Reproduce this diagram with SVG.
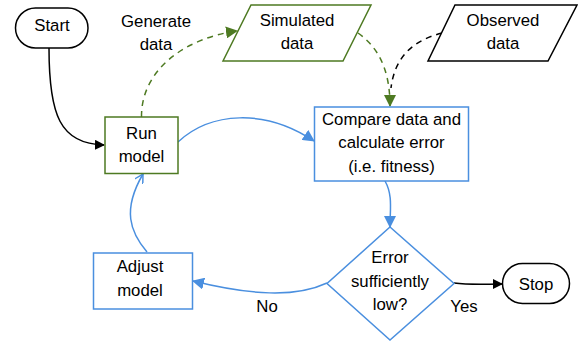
<svg xmlns="http://www.w3.org/2000/svg" width="578" height="345" viewBox="0 0 578 345">
<style>
text{font-family:"Liberation Sans",Arial,sans-serif;font-size:16.8px;fill:#000;text-anchor:middle}
.blk{fill:#fff;stroke:#000;stroke-width:1.5}
.grn{fill:#fff;stroke:#4e7a22;stroke-width:1.5}
.blu{fill:#fff;stroke:#4a8fdf;stroke-width:1.5}
.c{fill:none;stroke-width:1.5}
</style>
<defs>
<marker id="ab" markerWidth="10" markerHeight="10" refX="9" refY="5" orient="auto" markerUnits="userSpaceOnUse"><path d="M0,0 L10,5 L0,10 Z" fill="#000"/></marker>
<marker id="ag" markerWidth="12" markerHeight="12" refX="11" refY="6" orient="auto" markerUnits="userSpaceOnUse"><path d="M0,0 L12,6 L0,12 Z" fill="#4e7a22"/></marker>
<marker id="abl" markerWidth="12" markerHeight="12" refX="11" refY="6" orient="auto" markerUnits="userSpaceOnUse"><path d="M0,0 L12,6 L0,12 Z" fill="#4a8fdf"/></marker>
<marker id="aop" markerWidth="10" markerHeight="10" refX="9" refY="5" orient="auto" markerUnits="userSpaceOnUse"><path d="M0,0 L9,5 L0,10" fill="none" stroke="#4a8fdf" stroke-width="1.5"/></marker>
</defs>
<g id="connectors">
<path class="c" stroke="#000" d="M49,48 C49,115 60,144 104,145" marker-end="url(#ab)"/>
<path class="c" stroke="#4e7a22" stroke-dasharray="6,5" d="M141.5,117 C141,70 185,38 237,31" marker-end="url(#ag)"/>
<path class="c" stroke="#4e7a22" stroke-dasharray="6,5" d="M358,33 C375,45 390,65 390,106" marker-end="url(#ag)"/>
<path class="c" stroke="#000" stroke-dasharray="6,5" d="M442,33 C415,40 395,55 391,88"/>
<path class="c" stroke="#4a8fdf" d="M178,142 C210,112 265,108 314,141" marker-end="url(#abl)"/>
<path class="c" stroke="#4a8fdf" d="M385,181 C393,195 390,210 390,227" marker-end="url(#abl)"/>
<path class="c" stroke="#4a8fdf" d="M327,283 C295,298 250,295 193,281" marker-end="url(#abl)"/>
<path class="c" stroke="#4a8fdf" d="M147,252 C130,232 122,210 143,174" marker-end="url(#aop)"/>
<path class="c" stroke="#000" d="M454,283 C470,285 485,284 502,284" marker-end="url(#ab)"/>
<text x="156" y="27">Generate</text>
<text x="156" y="50">data</text>
<text x="267" y="312">No</text>
<text x="464" y="312">Yes</text>
</g>
<g id="start"><rect class="blk" x="15.5" y="8" width="72.5" height="40" rx="20" ry="20"/><text x="52" y="31">Start</text></g>
<g id="run-model"><rect class="grn" x="105" y="117" width="73" height="56.5"/><text x="141.5" y="139">Run</text><text x="141.5" y="162">model</text></g>
<g id="simulated-data"><polygon class="grn" points="251,5 371,5 343,61 223,61"/><text x="297" y="26">Simulated</text><text x="297" y="49">data</text></g>
<g id="observed-data"><polygon class="blk" points="455,5 577,5 548,61 428,61"/><text x="503" y="26">Observed</text><text x="503" y="49">data</text></g>
<g id="compare"><rect class="blu" x="314.5" y="107" width="154" height="74"/><text x="391.5" y="125">Compare data and</text><text x="391.5" y="148">calculate error</text><text x="391.5" y="172">(i.e. fitness)</text></g>
<g id="decision"><polygon class="blu" points="390,227 454,283.5 390,340 327,283.5"/><text x="390" y="263">Error</text><text x="390" y="287">sufficiently</text><text x="390" y="310">low?</text></g>
<g id="adjust-model"><rect class="blu" x="93.5" y="253" width="99" height="56"/><text x="140" y="272">Adjust</text><text x="140" y="296">model</text></g>
<g id="stop"><rect class="blk" x="502.5" y="263.5" width="67" height="40" rx="20" ry="20"/><text x="536" y="290">Stop</text></g>
</svg>
